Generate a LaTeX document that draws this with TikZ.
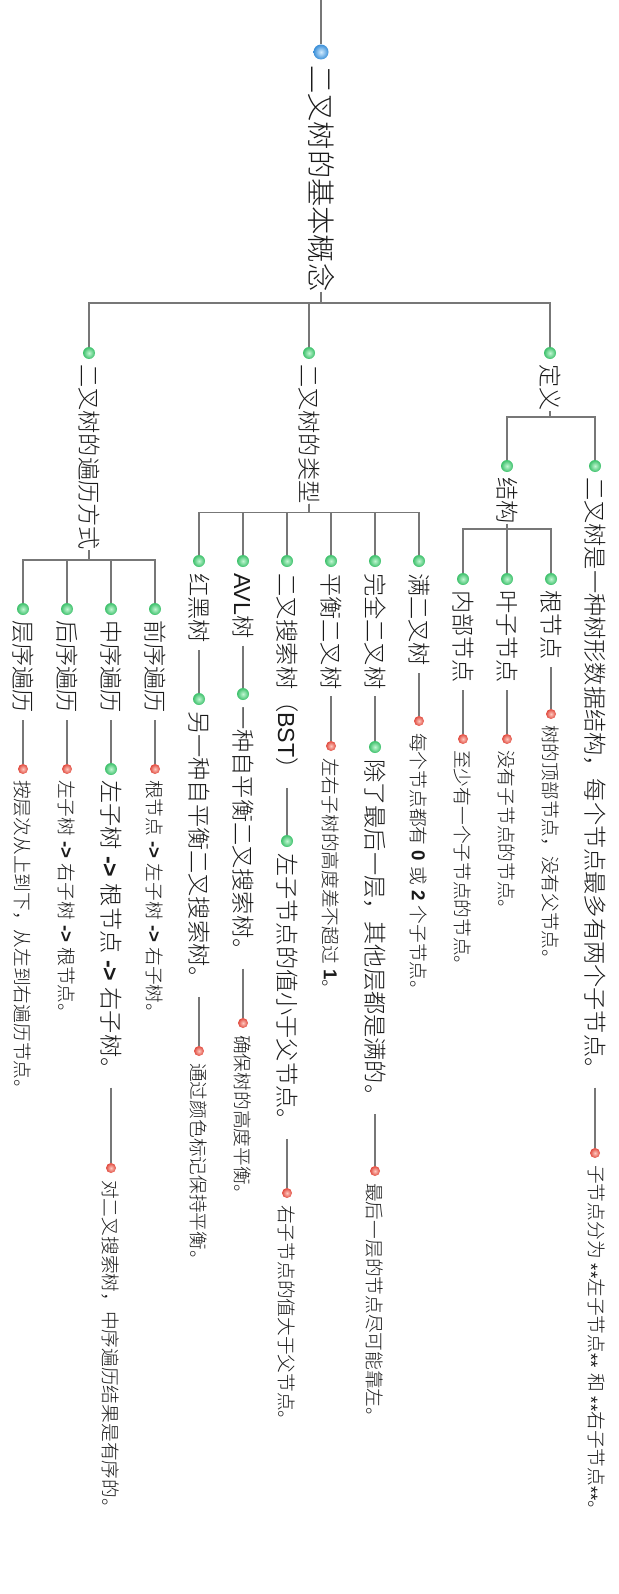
\documentclass[tikz,border=0pt]{standalone}
\usepackage{fontspec}
\setmainfont{Noto Sans CJK SC}[UprightFont=* Light]
\newfontfamily\lat{Liberation Sans}
\definecolor{linegray}{HTML}{777777}
\definecolor{gin}{HTML}{C2F7D3}
\definecolor{gout}{HTML}{3CC06A}
\definecolor{rin}{HTML}{FFC9C0}
\definecolor{rout}{HTML}{E04A3E}
\definecolor{bin}{HTML}{D2ECFF}
\definecolor{bout}{HTML}{3A8FD8}
\definecolor{txt}{HTML}{1A1A1A}
\newcommand{\ar}{{\lat\ \bfseries->\ }}
\newcommand{\st}{{\lat\raisebox{-0.28em}{**}}}
\begin{document}
\begin{tikzpicture}[x=1pt,y=-1pt,
  conn/.style={draw=linegray,line width=1.7pt},
  base/.style={rotate=-90,anchor=west,inner sep=0pt,text=txt},
  ttl/.style={base,font=\fontsize{28.3}{32}\selectfont},
  lvl/.style={base,font=\fontsize{23.2}{27}\selectfont},
  leaf/.style={base,font=\fontsize{18.7}{22}\selectfont},
  ballbase/.style={circle,inner sep=0pt,draw=none},
  gball/.style={ballbase,minimum size=12pt,inner color=gin,outer color=gout},
  rball/.style={ballbase,minimum size=10pt,inner color=rin,outer color=rout},
  bball/.style={ballbase,minimum size=15pt,inner color=bin,outer color=bout},
  lk/.style={conn,shorten <=7pt}]
\useasboundingbox (0,0) rectangle (618,1594);

% root
\coordinate (top) at (321,0);
\node[bball] (rb) at (321,52) {};
\node[ttl] (root) at (321,65) {二叉树的基本概念};

% level 1
\node[gball] (b1) at (550,353) {};
\node[lvl] (n1) at (550,364) {定义};
\node[gball] (b2) at (309,353) {};
\node[lvl] (n2) at (309,364) {二叉树的类型};
\node[gball] (b3) at (89,353) {};
\node[lvl] (n3) at (89,364) {二叉树的遍历方式};

% definition
\node[gball] (b11) at (595,466) {};
\node[lvl] (n11) at (595,477) {二叉树是一种树形数据结构，每个节点最多有两个子节点。};
\node[rball] (b111) at (595,1153) {};
\node[leaf] (n111) at (595,1165) {子节点分为{\lat\ }\st 左子节点\st{\lat\ }和{\lat\ }\st 右子节点\st 。};
\node[gball] (b12) at (507,466) {};
\node[lvl] (n12) at (507,477) {结构};
\node[gball] (b121) at (551,579) {};
\node[lvl] (n121) at (551,590) {根节点};
\node[rball] (b1211) at (551,714) {};
\node[leaf] (n1211) at (551,725) {树的顶部节点，没有父节点。};
\node[gball] (b122) at (507,579) {};
\node[lvl] (n122) at (507,590) {叶子节点};
\node[rball] (b1221) at (507,739) {};
\node[leaf] (n1221) at (507,750) {没有子节点的节点。};
\node[gball] (b123) at (463,579) {};
\node[lvl] (n123) at (463,590) {内部节点};
\node[rball] (b1231) at (463,739) {};
\node[leaf] (n1231) at (463,750) {至少有一个子节点的节点。};

% types
\node[gball] (b21) at (419,561) {};
\node[lvl] (n21) at (419,573) {满二叉树};
\node[rball] (b211) at (419,721) {};
\node[leaf] (n211) at (419,733) {每个节点都有{\lat\ \bfseries 0\ }或{\lat\ \bfseries 2\ }个子节点。};
\node[gball] (b22) at (375,561) {};
\node[lvl] (n22) at (375,573) {完全二叉树};
\node[gball] (b221) at (375,747) {};
\node[lvl] (n221) at (375,759) {除了最后一层，其他层都是满的。};
\node[rball] (b2211) at (375,1171) {};
\node[leaf] (n2211) at (375,1183) {最后一层的节点尽可能靠左。};
\node[gball] (b23) at (331,561) {};
\node[lvl] (n23) at (331,573) {平衡二叉树};
\node[rball] (b231) at (331,746) {};
\node[leaf] (n231) at (331,758) {左右子树的高度差不超过{\lat\ \bfseries 1}。};
\node[gball] (b24) at (287,561) {};
\node[lvl] (n24) at (287,573) {二叉搜索树（{\lat BST}）};
\node[gball] (b241) at (287,841) {};
\node[lvl] (n241) at (287,853) {左子节点的值小于父节点。};
\node[rball] (b2411) at (287,1193) {};
\node[leaf] (n2411) at (287,1205) {右子节点的值大于父节点。};
\node[gball] (b25) at (243,561) {};
\node[lvl] (n25) at (243,573) {{\lat AVL}树};
\node[gball] (b251) at (243,694) {};
\node[lvl] (n251) at (243,706) {一种自平衡二叉搜索树。};
\node[rball] (b2511) at (243,1023) {};
\node[leaf] (n2511) at (243,1035) {确保树的高度平衡。};
\node[gball] (b26) at (199,561) {};
\node[lvl] (n26) at (199,573) {红黑树};
\node[gball] (b261) at (199,699) {};
\node[lvl] (n261) at (199,711) {另一种自平衡二叉搜索树。};
\node[rball] (b2611) at (199,1051) {};
\node[leaf] (n2611) at (199,1063) {通过颜色标记保持平衡。};

% traversals
\node[gball] (b31) at (155,609) {};
\node[lvl] (n31) at (155,620) {前序遍历};
\node[rball] (b311) at (155,769) {};
\node[leaf] (n311) at (155,780) {根节点\ar 左子树\ar 右子树。};
\node[gball] (b32) at (111,609) {};
\node[lvl] (n32) at (111,620) {中序遍历};
\node[gball] (b321) at (111,769) {};
\node[lvl] (n321) at (111,780) {左子树\ar 根节点\ar 右子树。};
\node[rball] (b3211) at (111,1168) {};
\node[leaf] (n3211) at (111,1180) {对二叉搜索树，中序遍历结果是有序的。};
\node[gball] (b33) at (67,609) {};
\node[lvl] (n33) at (67,620) {后序遍历};
\node[rball] (b331) at (67,769) {};
\node[leaf] (n331) at (67,780) {左子树\ar 右子树\ar 根节点。};
\node[gball] (b34) at (23,609) {};
\node[lvl] (n34) at (23,620) {层序遍历};
\node[rball] (b341) at (23,769) {};
\node[leaf] (n341) at (23,780) {按层次从上到下，从左到右遍历节点。};

% connectors
\draw[conn] (top) -- (rb);
\foreach \b in {b1,b2,b3} \draw[conn] (root.east) -- ++(0,11) -| (\b);
\foreach \b in {b11,b12} \draw[conn] (n1.east) -- ++(0,6) -| (\b);
\foreach \b in {b121,b122,b123} \draw[conn] (n12.east) -- ++(0,5) -| (\b);
\foreach \b in {b21,b22,b23,b24,b25,b26} \draw[conn] (n2.east) -- ++(0,9) -| (\b);
\foreach \b in {b31,b32,b33,b34} \draw[conn] (n3.east) -- ++(0,10) -| (\b);
\draw[lk] (n11.east) -- (b111);
\draw[lk] (n121.east) -- (b1211);
\draw[lk] (n122.east) -- (b1221);
\draw[lk] (n123.east) -- (b1231);
\draw[lk] (n21.east) -- (b211);
\draw[lk] (n22.east) -- (b221);
\draw[lk] (n221.east) -- (b2211);
\draw[lk] (n23.east) -- (b231);
\draw[lk] (n24.east) -- (b241);
\draw[lk] (n241.east) -- (b2411);
\draw[lk] (n25.east) -- (b251);
\draw[lk] (n251.east) -- (b2511);
\draw[lk] (n26.east) -- (b261);
\draw[lk] (n261.east) -- (b2611);
\draw[lk] (n31.east) -- (b311);
\draw[lk] (n32.east) -- (b321);
\draw[lk] (n321.east) -- (b3211);
\draw[lk] (n33.east) -- (b331);
\draw[lk] (n34.east) -- (b341);
\end{tikzpicture}
\end{document}
